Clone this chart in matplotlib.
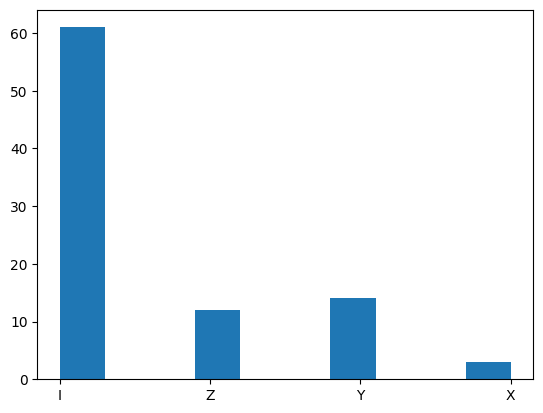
import matplotlib
matplotlib.use("Agg")
import matplotlib.pyplot as plt

# categories in order of first appearance, with their counts
categories = ["I", "Z", "Y", "X"]
counts = [61, 12, 14, 3]

# expand to raw observations so hist does the binning (default 10 bins)
observations = []
for cat, n in zip(categories, counts):
    observations += [cat] * n

fig, ax = plt.subplots(figsize=(6.4, 4.8), dpi=100)
ax.hist(observations)

fig.savefig("out.png", bbox_inches="tight")
